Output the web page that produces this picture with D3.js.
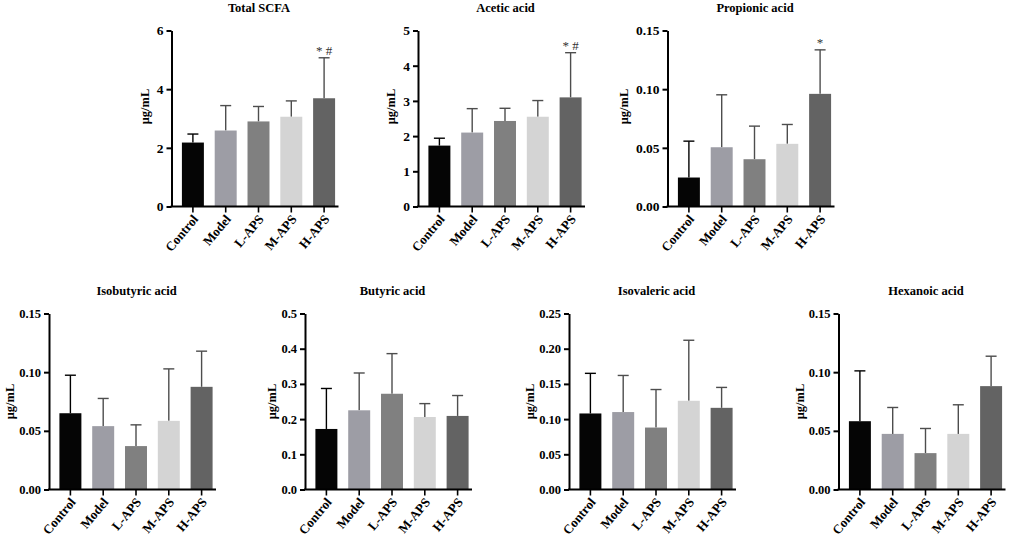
<!DOCTYPE html>
<html>
<head>
<meta charset="utf-8">
<script src="https://cdn.jsdelivr.net/npm/d3@7"></script>
<style>
  body { margin: 0; background: #fff; }
  svg text { font-family: "Liberation Serif", "Times New Roman", serif; }
</style>
</head>
<body>
<svg id="chart"></svg>
<script>
const groups = ["Control", "Model", "L-APS", "M-APS", "H-APS"];
const palette = ["#050505", "#9d9da5", "#808080", "#d4d4d4", "#636363"];

// bar heights (mean) and top of error bar
const totalMean = [2.18, 2.59, 2.90, 3.06, 3.69];
const totalTop = [2.47, 3.44, 3.41, 3.60, 5.07];
const aceticMean = [1.73, 2.10, 2.43, 2.55, 3.10];
const aceticTop = [1.94, 2.78, 2.79, 3.01, 4.37];
const propionicMean = [0.0247, 0.0505, 0.0403, 0.0534, 0.0960];
const propionicTop = [0.0557, 0.0952, 0.0685, 0.0699, 0.1335];
const isobutyricMean = [0.065, 0.054, 0.037, 0.0585, 0.0875];
const isobutyricTop = [0.0974, 0.0776, 0.0551, 0.1028, 0.1179];
const butyricMean = [0.172, 0.225, 0.272, 0.206, 0.209];
const butyricTop = [0.287, 0.331, 0.386, 0.244, 0.267];
const isovalericMean = [0.108, 0.110, 0.088, 0.126, 0.116];
const isovalericTop = [0.165, 0.162, 0.142, 0.212, 0.145];
const hexanoicMean = [0.0582, 0.0474, 0.031, 0.0474, 0.0881];
const hexanoicTop = [0.1011, 0.0699, 0.052, 0.0722, 0.1136];

const titles = ["Total SCFA", "Acetic acid", "Propionic acid", "Isobutyric acid",
  "Butyric acid", "Isovaleric acid", "Hexanoic acid"];
const yMax = [6, 5, 0.15, 0.15, 0.5, 0.25, 0.15];
const yStep = [2, 1, 0.05, 0.05, 0.1, 0.05, 0.05];
const yFormat = ["d", "d", ".2f", ".2f", ".1f", ".2f", ".2f"];
const marks = [["", "", "", "", "* #"], ["", "", "", "", "* #"], ["", "", "", "", "*"],
  null, null, null, null];

const means = [totalMean, aceticMean, propionicMean, isobutyricMean, butyricMean, isovalericMean, hexanoicMean];
const tops = [totalTop, aceticTop, propionicTop, isobutyricTop, butyricTop, isovalericTop, hexanoicTop];

const width = 1017, height = 536;
// axis origin of every panel
const origins = [
  { x: 171.5, y: 30.5, row: 0 }, { x: 418, y: 30.5, row: 0 }, { x: 667.5, y: 30.5, row: 0 },
  { x: 49, y: 313.5, row: 1 }, { x: 305, y: 313.5, row: 1 }, { x: 569, y: 313.5, row: 1 }, { x: 838.5, y: 313.5, row: 1 },
];
const plotW = 167, plotH = 176;
const fs = "12.5px";

const svg = d3.select("#chart").attr("width", width).attr("height", height);
svg.append("rect").attr("width", width).attr("height", height).attr("fill", "#fff");

titles.forEach((title, i) => {
  const o = origins[i];
  const g = svg.append("g").attr("transform", `translate(${o.x}, ${o.y})`);

  const x = d3.scaleBand().domain(groups).range([5, 5 + 5 * 32.8]).paddingInner(0.33).paddingOuter(0.165);
  const y = d3.scaleLinear().domain([0, yMax[i]]).range([plotH, 0]);
  const rows = groups.map((grp, k) => ({ grp, mean: means[i][k], top: tops[i][k], k }));

  // error bars (upper only) drawn behind bars
  const err = g.append("g");
  err.selectAll("line.stem")
    .data(rows)
    .join("line")
    .attr("x1", (d) => x(d.grp) + x.bandwidth() / 2)
    .attr("x2", (d) => x(d.grp) + x.bandwidth() / 2)
    .attr("y1", (d) => y(d.mean))
    .attr("y2", (d) => y(d.top))
    .attr("stroke", (d) => (d.k === 0 ? "#000" : "#4d4d4d"))
    .attr("stroke-width", 1.4);
  err.selectAll("line.cap")
    .data(rows)
    .join("line")
    .attr("x1", (d) => x(d.grp) + x.bandwidth() / 2 - 5.5)
    .attr("x2", (d) => x(d.grp) + x.bandwidth() / 2 + 5.5)
    .attr("y1", (d) => y(d.top))
    .attr("y2", (d) => y(d.top))
    .attr("stroke", (d) => (d.k === 0 ? "#000" : "#4d4d4d"))
    .attr("stroke-width", 1.4);

  g.append("g")
    .selectAll("rect")
    .data(rows)
    .join("rect")
    .attr("x", (d) => x(d.grp))
    .attr("y", (d) => y(d.mean))
    .attr("width", x.bandwidth())
    .attr("height", (d) => plotH - y(d.mean))
    .attr("fill", (d) => palette[d.k]);

  // significance marks
  if (marks[i]) {
    g.append("g")
      .selectAll("text")
      .data(rows.filter((d) => marks[i][d.k]))
      .join("text")
      .attr("x", (d) => x(d.grp) + x.bandwidth() / 2)
      .attr("y", (d) => y(d.top) - 3)
      .attr("text-anchor", "middle")
      .style("font-size", "13px")
      .style("white-space", "pre")
      .attr("fill", "#333")
      .text((d) => marks[i][d.k]);
  }

  // y axis
  const ticks = d3.range(0, yMax[i] + yStep[i] / 2, yStep[i]);
  const yAxis = g.append("g")
    .call(d3.axisLeft(y).tickValues(ticks).tickFormat(d3.format(yFormat[i])).tickSize(5).tickPadding(3).tickSizeOuter(0));
  yAxis.select(".domain").attr("stroke-width", 2).attr("stroke", "#000");
  yAxis.selectAll(".tick line").attr("stroke-width", 2);
  yAxis.selectAll("text")
    .style("font-size", o.row === 0 ? "13.5px" : fs)
    .style("font-weight", "bold")
    .attr("fill", "#000");

  // x axis
  const xAxis = g.append("g").attr("transform", `translate(0, ${plotH})`);
  xAxis.append("line").attr("x1", -1).attr("x2", plotW).attr("stroke", "#000").attr("stroke-width", 2);
  const xt = xAxis.selectAll("g")
    .data(groups)
    .join("g")
    .attr("transform", (d) => `translate(${x(d) + x.bandwidth() / 2}, 0)`);
  xt.append("line").attr("y2", 6).attr("stroke", "#000").attr("stroke-width", 1.6);
  xt.append("text")
    .attr("transform", "translate(6, 13) rotate(-50)")
    .attr("text-anchor", "end")
    .style("font-size", "13px")
    .style("font-weight", "bold")
    .text((d) => d);

  // y label placed left of the tick labels
  let minX = 0;
  yAxis.selectAll("text").each(function () {
    minX = Math.min(minX, this.getBBox().x);
  });
  const labelY = o.row === 0 ? plotH / 2 - 12 : plotH / 2;
  const labelX = o.row === 0 ? minX - 8 : minX - 5;
  g.append("text")
    .attr("transform", `translate(${labelX}, ${labelY}) rotate(-90)`)
    .attr("text-anchor", "middle")
    .style("font-size", fs)
    .style("font-weight", "bold")
    .text("μg/mL");

  // title
  g.append("text")
    .attr("x", plotW / 2 + 4)
    .attr("y", -19)
    .attr("text-anchor", "middle")
    .style("font-size", fs)
    .style("font-weight", "bold")
    .text(title);
});
</script>
</body>
</html>
